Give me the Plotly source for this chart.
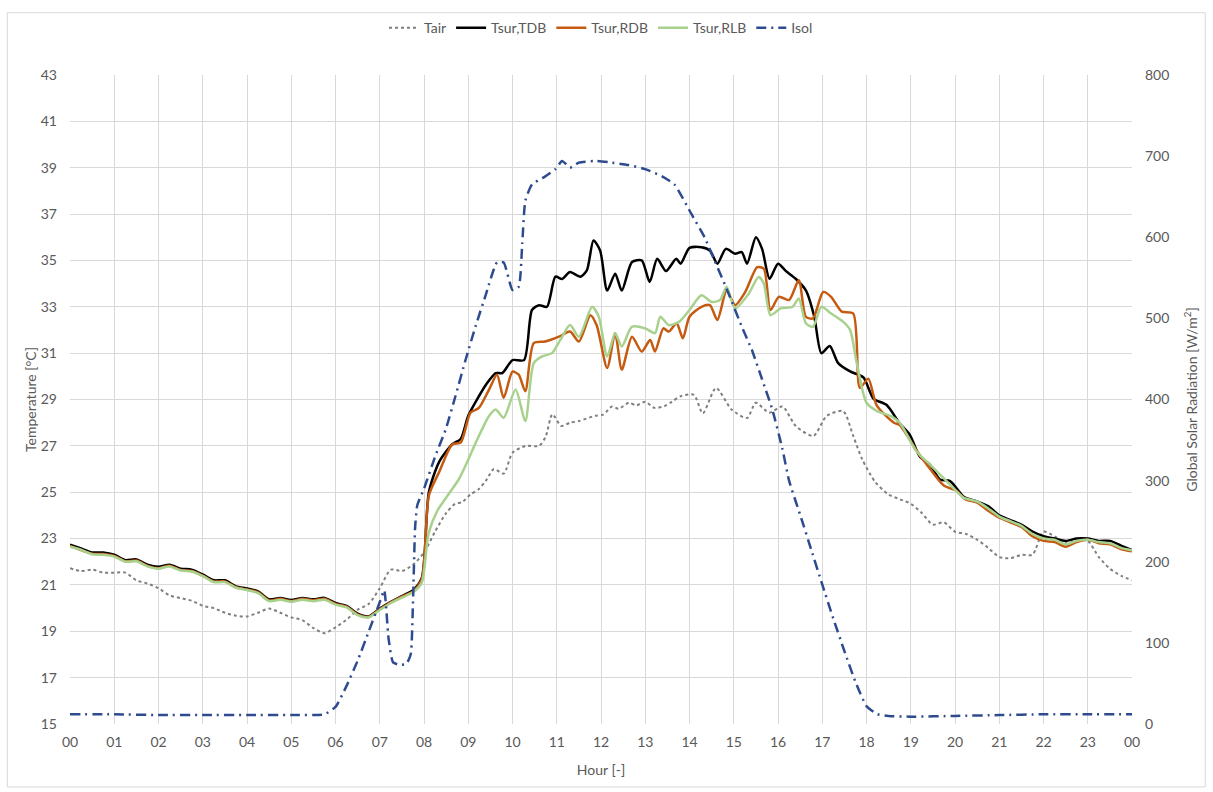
import plotly.graph_objects as go

# ---------------- data (hours, values) ----------------
tair_h = [0, 0.25, 0.5, 0.75, 1, 1.25, 1.5, 1.75, 2, 2.25, 2.5, 2.75, 3, 3.25, 3.5, 3.75,
          4, 4.25, 4.5, 4.75, 5, 5.25, 5.5, 5.75, 6, 6.25, 6.5, 6.75, 7, 7.25, 7.5, 7.75,
          8.0, 8.25, 8.5, 8.7, 8.86, 9.05, 9.24, 9.4, 9.58, 9.8, 10.0, 10.3, 10.6, 10.75,
          10.9, 11.1, 11.3, 11.5, 11.87, 12.05, 12.25, 12.4, 12.63, 12.8, 13.0, 13.2, 13.43,
          13.6, 13.8, 14.1, 14.3, 14.6, 14.95, 15.3, 15.5, 15.8, 16.1, 16.4, 16.8, 17.1,
          17.47, 17.7, 17.9, 18.2, 18.5, 18.75, 19.0, 19.25, 19.5, 19.75, 20.0, 20.25, 20.5,
          20.75, 21.0, 21.25, 21.5, 21.75, 22.0, 22.25, 22.5, 22.75, 23.0, 23.25, 23.5, 23.75, 24.0]
tair_v = [21.72, 21.6, 21.66, 21.53, 21.53, 21.53, 21.2, 21.06, 20.86, 20.55, 20.43, 20.32, 20.1, 20.0, 19.8, 19.67,
          19.64, 19.8, 19.98, 19.8, 19.6, 19.48, 19.14, 18.92, 19.17, 19.5, 19.93, 20.18, 20.86, 21.66, 21.6, 21.87,
          22.4, 23.3, 24.1, 24.5, 24.57, 24.9, 25.14, 25.5, 26.0, 25.8, 26.7, 27.0, 27.0, 27.4,
          28.36, 27.86, 28.0, 28.07, 28.3, 28.35, 28.7, 28.6, 28.86, 28.75, 28.9, 28.64, 28.71,
          28.9, 29.14, 29.2, 28.4, 29.5, 28.57, 28.2, 28.86, 28.43, 28.7, 27.86, 27.43, 28.29,
          28.5, 27.43, 26.43, 25.43, 24.9, 24.7, 24.5, 24.1, 23.6, 23.7, 23.3, 23.2, 22.95,
          22.6, 22.2, 22.15, 22.3, 22.3, 23.3, 23.1, 22.8, 22.9, 22.9, 22.2, 21.7, 21.4, 21.2]

tdb_h = [0, 0.25, 0.5, 0.75, 1, 1.25, 1.5, 1.75, 2, 2.25, 2.5, 2.75, 3, 3.25, 3.5, 3.75,
         4, 4.25, 4.5, 4.75, 5, 5.25, 5.5, 5.75, 6, 6.25, 6.5, 6.75, 7, 7.25, 7.5, 7.75, 7.95,
         8.11, 8.34, 8.64, 8.83, 9.0, 9.24, 9.4, 9.62, 9.77, 10.0, 10.26, 10.44, 10.6, 10.78,
         10.97, 11.12, 11.3, 11.53, 11.68, 11.83, 11.98, 12.14, 12.32, 12.47, 12.7, 12.92,
         13.1, 13.27, 13.47, 13.7, 13.8, 14.0, 14.27, 14.46, 14.63, 14.82, 15.03, 15.18, 15.3,
         15.5, 15.64, 15.81, 16.0, 16.18, 16.4, 16.63, 16.82, 16.98, 17.17, 17.36, 17.63,
         17.93, 18.16, 18.45, 18.75, 18.98, 19.2, 19.43, 19.66, 19.89, 20.2, 20.5, 20.75, 21.0,
         21.25, 21.5, 21.75, 22.0, 22.25, 22.5, 22.75, 23.0, 23.25, 23.5, 23.75, 24.0]
tdb_v = [22.74, 22.57, 22.4, 22.4, 22.3, 22.07, 22.1, 21.87, 21.78, 21.87, 21.7, 21.66, 21.45, 21.2, 21.2, 20.94,
         20.85, 20.72, 20.38, 20.44, 20.35, 20.44, 20.38, 20.44, 20.22, 20.1, 19.76, 19.64, 19.98, 20.27, 20.52, 20.77, 21.3,
         25.0, 26.3, 27.07, 27.3, 28.3, 29.14, 29.64, 30.14, 30.14, 30.7, 30.7, 32.86, 33.07, 33.0,
         34.3, 34.2, 34.5, 34.3, 34.57, 35.86, 35.43, 33.7, 34.43, 33.7, 34.93, 35.0,
         34.07, 35.07, 34.54, 35.07, 34.86, 35.54, 35.57, 35.43, 34.86, 35.5, 35.29, 35.36, 34.86,
         36.0, 35.5, 34.21, 34.86, 34.54, 34.21, 33.71, 32.57, 31.0, 31.31, 30.57, 30.21,
         29.95, 29.03, 28.77, 27.97, 27.47, 26.55, 26.19, 25.55, 25.48, 24.8, 24.6, 24.4, 24.0,
         23.8, 23.6, 23.3, 23.1, 23.0, 22.9, 23.0, 23.0, 22.9, 22.9, 22.7, 22.5]

rdb_h = [0, 0.25, 0.5, 0.75, 1, 1.25, 1.5, 1.75, 2, 2.25, 2.5, 2.75, 3, 3.25, 3.5, 3.75,
         4, 4.25, 4.5, 4.75, 5, 5.25, 5.5, 5.75, 6, 6.25, 6.5, 6.75, 7, 7.25, 7.5, 7.75, 7.95,
         8.11, 8.34, 8.64, 8.83, 9.05, 9.24, 9.47, 9.65, 9.8, 10.0, 10.14, 10.29, 10.48, 10.74,
         11.05, 11.3, 11.5, 11.76, 11.9, 12.14, 12.32, 12.47, 12.7, 12.92, 13.11, 13.22, 13.41,
         13.53, 13.71, 13.85, 14.0, 14.27, 14.46, 14.63, 14.84, 15.03, 15.26, 15.53, 15.68,
         15.83, 16.02, 16.25, 16.47, 16.63, 16.79, 17.02, 17.2, 17.44, 17.7, 17.85, 18.04,
         18.23, 18.62, 18.75, 19.13, 19.36, 19.74, 20.04, 20.23, 20.5, 20.75, 21.0, 21.25, 21.5,
         21.75, 22.0, 22.25, 22.5, 22.75, 23.0, 23.25, 23.5, 23.75, 24.0]
rdb_v = [22.68, 22.5, 22.35, 22.33, 22.25, 22.02, 22.05, 21.82, 21.72, 21.83, 21.65, 21.6, 21.4, 21.15, 21.15, 20.9,
         20.8, 20.68, 20.33, 20.4, 20.3, 20.4, 20.34, 20.4, 20.18, 20.06, 19.72, 19.62, 19.95, 20.25, 20.5, 20.72, 21.25,
         24.86, 25.86, 27.07, 27.14, 28.43, 28.64, 29.43, 30.07, 29.07, 30.2, 30.07, 29.36, 31.43, 31.5,
         31.71, 31.93, 31.5, 32.64, 32.21, 30.36, 31.86, 30.29, 31.71, 31.07, 31.57, 31.07, 32.07,
         31.93, 32.29, 31.64, 32.57, 33.0, 33.07, 32.43, 33.71, 33.07, 33.64, 34.71, 34.64,
         32.86, 33.43, 33.29, 34.14, 32.57, 32.5, 33.64, 33.43, 32.79, 32.71, 29.5, 29.9,
         28.75, 28.0, 27.9, 26.8, 26.2, 25.3, 25.05, 24.7, 24.55, 24.2, 23.9, 23.7, 23.5,
         23.1, 22.9, 22.85, 22.65, 22.85, 22.95, 22.8, 22.75, 22.55, 22.45]

rlb_h = [0, 0.25, 0.5, 0.75, 1, 1.25, 1.5, 1.75, 2, 2.25, 2.5, 2.75, 3, 3.25, 3.5, 3.75,
         4, 4.25, 4.5, 4.75, 5, 5.25, 5.5, 5.75, 6, 6.25, 6.5, 6.75, 7, 7.25, 7.5, 7.75, 7.95,
         8.1, 8.3, 8.55, 8.79, 9.0, 9.17, 9.47, 9.62, 9.8, 10.07, 10.29, 10.48, 10.67, 10.89,
         11.08, 11.3, 11.5, 11.8, 11.95, 12.14, 12.32, 12.47, 12.7, 13.0, 13.22, 13.34, 13.53,
         13.77, 14.0, 14.27, 14.5, 14.69, 14.84, 15.03, 15.34, 15.56, 15.68, 15.83, 16.06,
         16.33, 16.47, 16.63, 16.79, 16.98, 17.2, 17.47, 17.63, 17.78, 18.0, 18.24, 18.54,
         18.75, 19.13, 19.43, 19.81, 20.19, 20.5, 20.75, 21.0, 21.25, 21.5, 21.75, 22.0, 22.25,
         22.5, 22.75, 23.0, 23.25, 23.5, 23.75, 24.0]
rlb_v = [22.65, 22.52, 22.32, 22.3, 22.22, 22.0, 22.02, 21.8, 21.7, 21.8, 21.62, 21.58, 21.38, 21.12, 21.12, 20.88,
         20.78, 20.65, 20.3, 20.36, 20.28, 20.36, 20.3, 20.36, 20.15, 20.03, 19.7, 19.6, 19.92, 20.22, 20.45, 20.68, 21.1,
         23.2, 24.2, 24.9, 25.57, 26.4, 27.14, 28.29, 28.57, 28.21, 29.43, 28.07, 30.57, 30.86, 31.0,
         31.57, 32.21, 31.71, 33.0, 32.57, 30.86, 31.86, 31.29, 32.14, 32.07, 31.86, 32.57, 32.21,
         32.36, 32.86, 33.5, 33.21, 33.29, 33.86, 32.93, 33.57, 34.29, 34.0, 32.64, 32.93,
         33.0, 33.36, 32.29, 32.14, 33.0, 32.71, 32.36, 32.0, 30.57, 28.86, 28.5, 28.29,
         28.0, 26.76, 26.2, 25.48, 24.77, 24.6, 24.3, 23.95, 23.75, 23.55, 23.2, 23.0, 22.95,
         22.75, 22.9, 22.95, 22.85, 22.8, 22.6, 22.5]

isol_h = [0, 1, 2, 3, 4, 5, 5.75, 6.0, 6.25, 6.5, 6.75, 7.0, 7.1, 7.2, 7.3, 7.45, 7.6, 7.7, 7.75,
          7.8, 7.85, 8.0, 8.26, 8.49, 8.71, 8.94, 9.17, 9.39, 9.65, 9.8, 10.0, 10.14, 10.22,
          10.29, 10.44, 10.74, 10.97, 11.12, 11.3, 11.5, 11.87, 12.25, 12.62, 13.0, 13.38,
          13.66, 14.04, 14.34, 14.57, 14.88, 15.18, 15.41, 15.64, 15.87, 16.1, 16.25, 16.5,
          16.75, 17.0, 17.25, 17.5, 17.75, 18.0, 18.25, 18.5, 19, 20, 21, 22, 23, 24]
isol_v = [12, 12, 11, 11, 11, 11, 12, 21, 47, 78, 114, 150, 165, 105, 76, 73, 74, 86, 148,
          243, 270, 290, 331, 363, 404, 449, 491, 528, 569, 569, 535, 539, 592,
          645, 665, 675, 684, 694, 686, 692, 694, 692, 689, 684, 675,
          665, 629, 600, 571, 531, 490, 461, 425, 388, 339, 300, 258,
          215, 172, 130, 90, 52, 22, 12, 10, 9, 10, 11, 12, 12, 12]

hour_vals = list(range(25))
hour_text = ["00", "01", "02", "03", "04", "05", "06", "07", "08", "09", "10", "11", "12",
             "13", "14", "15", "16", "17", "18", "19", "20", "21", "22", "23", "00"]

FONT = "Lato, 'Open Sans', sans-serif"
GREY = "#595959"
SM = 0.7

fig = go.Figure()
fig.add_trace(go.Scatter(x=tair_h, y=tair_v, name="Tair", mode="lines",
                         line=dict(color="#7f7f7f", width=2, dash="dot", shape="spline", smoothing=SM)))
fig.add_trace(go.Scatter(x=tdb_h, y=tdb_v, name="Tsur,TDB", mode="lines",
                         line=dict(color="#000000", width=2.5, shape="spline", smoothing=SM)))
fig.add_trace(go.Scatter(x=rdb_h, y=rdb_v, name="Tsur,RDB", mode="lines",
                         line=dict(color="#C55A11", width=2.5, shape="spline", smoothing=SM)))
fig.add_trace(go.Scatter(x=rlb_h, y=rlb_v, name="Tsur,RLB", mode="lines",
                         line=dict(color="#A9D18E", width=2.5, shape="spline", smoothing=SM)))
fig.add_trace(go.Scatter(x=isol_h, y=isol_v, name="Isol", mode="lines", yaxis="y2",
                         line=dict(color="#2F4B8F", width=2.5, dash="10px,5px,2px,5px",
                                   shape="spline", smoothing=0.5)))

fig.update_layout(
    width=1213, height=792, autosize=False,
    margin=dict(l=70, r=81, t=69, b=68),
    paper_bgcolor="white", plot_bgcolor="white",
    font=dict(family=FONT, color=GREY, size=13),
    showlegend=True,
    legend=dict(orientation="h", x=0.5, xanchor="center", y=1.072, yanchor="middle",
                font=dict(size=14, color=GREY), itemwidth=30, bgcolor="rgba(0,0,0,0)"),
    xaxis=dict(range=[0, 24], tickvals=hour_vals, ticktext=hour_text, showgrid=True,
               gridcolor="#d9d9d9", gridwidth=1, zeroline=False, showline=False, ticks="",
               tickfont=dict(size=14, color=GREY), ticklabelstandoff=8,
               title=dict(text="Hour [-]", font=dict(size=14, color=GREY), standoff=16)),
    yaxis=dict(range=[15, 43], dtick=2, tick0=15, showgrid=True, gridcolor="#d9d9d9",
               zeroline=False, showline=False, ticks="", tickfont=dict(size=14, color=GREY),
               ticklabelstandoff=12,
               title=dict(text="Temperature [°C]", font=dict(size=14, color=GREY), standoff=0)),
    yaxis2=dict(range=[0, 800], dtick=100, overlaying="y", side="right", showgrid=False,
                zeroline=False, showline=False, ticks="", tickfont=dict(size=14, color=GREY),
                ticklabelstandoff=12,
                title=dict(text="Global Solar Radiation [W/m<sup>2</sup>]",
                           font=dict(size=14, color=GREY), standoff=18)),
    shapes=[dict(type="rect", xref="paper", yref="paper", x0=-0.059, x1=1.069, y0=-0.097, y1=1.096,
                 line=dict(color="#d9d9d9", width=1), fillcolor="rgba(0,0,0,0)", layer="below")],
)

fig.write_html("out.html")
